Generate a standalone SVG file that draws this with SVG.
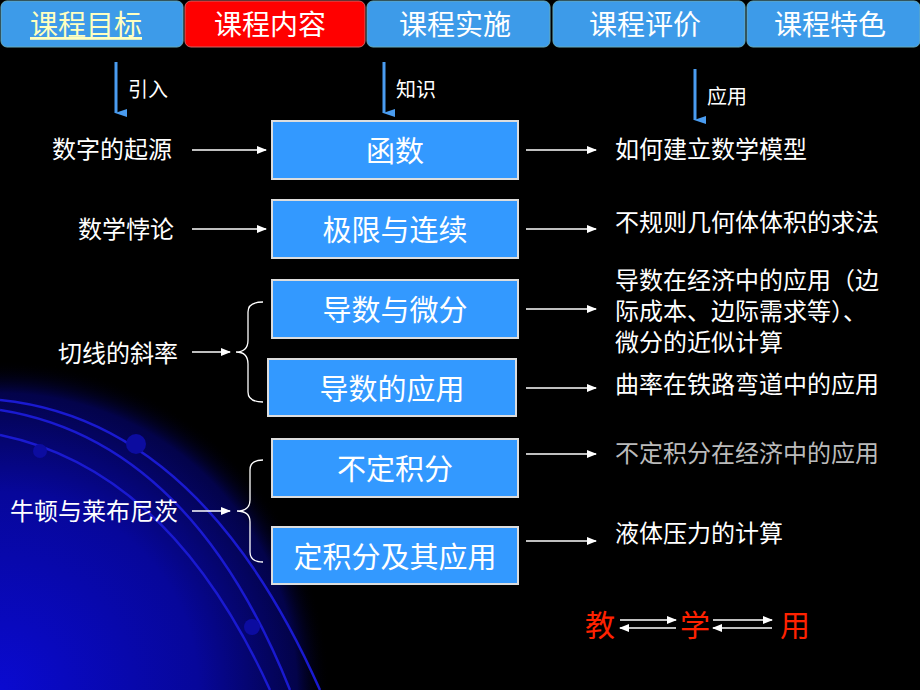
<svg xmlns="http://www.w3.org/2000/svg" width="920" height="690" viewBox="0 0 920 690">
<defs>
<radialGradient id="bg" cx="0" cy="690" r="330" gradientUnits="userSpaceOnUse">
<stop offset="0" stop-color="#0a0ad0"/><stop offset="0.6" stop-color="#07079a"/><stop offset="0.9" stop-color="#03034a"/><stop offset="1" stop-color="#000" stop-opacity="0"/>
</radialGradient>
<marker id="ah" markerWidth="10" markerHeight="8" refX="9" refY="4" orient="auto" markerUnits="userSpaceOnUse"><path d="M0,0 L10,4 L0,8 z" fill="#fff"/></marker>
<marker id="bh" markerWidth="8" markerHeight="12" refX="4" refY="11" orient="auto-start-reverse" markerUnits="userSpaceOnUse"><path d="M0,0 L8,0 L4,12 z" fill="#4a9cf0"/></marker>
<style>
.t{font-family:"Noto Sans CJK SC","Liberation Sans",sans-serif;fill:#fff}
.tab{fill:#3d9be9;stroke:#6ab;stroke-width:1}
.box{fill:#3399ff;stroke:#ddd;stroke-width:2}
.c{stroke:#fff;stroke-width:1.3;fill:none}
.arc{stroke:#1a1ad0;stroke-width:2.5;fill:none}
</style>
</defs>
<rect width="920" height="690" fill="#000"/>
<rect width="920" height="690" fill="url(#bg)"/>
<g id="arcs">
<path class="arc" d="M0,400 Q200,420 320,690"/>
<path class="arc" d="M0,410 Q190,440 290,690"/>
<path class="arc" d="M0,435 Q170,470 270,690"/>
<circle cx="136" cy="444" r="10" fill="#0c0ca0"/>
<circle cx="40" cy="451" r="7" fill="#0c0ca0"/>
<circle cx="252" cy="627" r="8" fill="#0c0ca0"/>
</g>
<g id="tabs" class="t" font-size="28" text-anchor="middle">
<rect class="tab" x="1" y="1" width="182" height="46" rx="6"/>
<text x="86" y="35" text-decoration="underline" style="fill:#ffffc0">课程目标</text>
<rect x="185" y="1" width="180" height="46" rx="6" fill="#ff0000" stroke="#c66"/>
<text x="270" y="35">课程内容</text>
<rect class="tab" x="367" y="1" width="183" height="46" rx="6"/>
<text x="455" y="35">课程实施</text>
<rect class="tab" x="553" y="1" width="192" height="46" rx="6"/>
<text x="645" y="35">课程评价</text>
<rect class="tab" x="747" y="1" width="173" height="46" rx="6"/>
<text x="830" y="35">课程特色</text>
</g>
<g id="heads" class="t" font-size="20">
<line x1="116" y1="62" x2="116" y2="113" stroke="#4a9cf0" stroke-width="3" marker-end="url(#bh)"/>
<text x="128" y="97">引入</text>
<line x1="384" y1="62" x2="384" y2="113" stroke="#4a9cf0" stroke-width="3" marker-end="url(#bh)"/>
<text x="396" y="97">知识</text>
<line x1="695" y1="69" x2="695" y2="120" stroke="#4a9cf0" stroke-width="3" marker-end="url(#bh)"/>
<text x="707" y="104">应用</text>
</g>
<g id="n1"><rect class="box" x="272" y="121" width="246" height="58"/><text class="t" x="395" y="162" font-size="29" text-anchor="middle">函数</text></g>
<g id="n2"><rect class="box" x="272" y="200" width="246" height="58"/><text class="t" x="395" y="241" font-size="29" text-anchor="middle">极限与连续</text></g>
<g id="n3"><rect class="box" x="272" y="280" width="246" height="58"/><text class="t" x="395" y="321" font-size="29" text-anchor="middle">导数与微分</text></g>
<g id="n4"><rect class="box" x="268" y="359" width="248" height="57"/><text class="t" x="392" y="400" font-size="29" text-anchor="middle">导数的应用</text></g>
<g id="n5"><rect class="box" x="272" y="439" width="246" height="58"/><text class="t" x="395" y="480" font-size="29" text-anchor="middle">不定积分</text></g>
<g id="n6"><rect class="box" x="272" y="527" width="246" height="57"/><text class="t" x="395" y="568" font-size="29" text-anchor="middle">定积分及其应用</text></g>
<g id="labels" class="t" font-size="24">
<text x="52" y="158">数字的起源</text>
<text x="78" y="238">数学悖论</text>
<text x="58" y="362">切线的斜率</text>
<text x="10" y="520">牛顿与莱布尼茨</text>
<text x="615" y="158">如何建立数学模型</text>
<text x="615" y="231">不规则几何体体积的求法</text>
<text x="615" y="289">导数在经济中的应用（边</text>
<text x="615" y="320">际成本、边际需求等）、</text>
<text x="615" y="351">微分的近似计算</text>
<text x="615" y="393">曲率在铁路弯道中的应用</text>
<text x="615" y="462" style="fill:#bbb">不定积分在经济中的应用</text>
<text x="615" y="542">液体压力的计算</text>
</g>
<g id="edu" font-size="30" font-family="Noto Sans CJK SC,sans-serif" fill="#ff2200">
<text x="585" y="636">教</text><text x="680" y="636">学</text><text x="780" y="636">用</text>
</g>
<g id="connectors">
<line class="c" x1="192" y1="150" x2="266" y2="150" marker-end="url(#ah)"/>
<line class="c" x1="192" y1="229" x2="266" y2="229" marker-end="url(#ah)"/>
<line class="c" x1="192" y1="352" x2="230" y2="352" marker-end="url(#ah)"/>
<line class="c" x1="192" y1="511" x2="230" y2="511" marker-end="url(#ah)"/>
<path class="c" d="M263,302 Q248,302 248,312 L248,340 Q248,352 236,352 Q248,352 248,364 L248,392 Q248,402 263,402"/>
<path class="c" d="M263,460 Q250,460 250,470 L250,500 Q250,511 237,511 Q250,511 250,522 L250,552 Q250,562 263,562"/>
<line class="c" x1="526" y1="150" x2="596" y2="150" marker-end="url(#ah)"/>
<line class="c" x1="526" y1="229" x2="596" y2="229" marker-end="url(#ah)"/>
<line class="c" x1="526" y1="309" x2="596" y2="309" marker-end="url(#ah)"/>
<line class="c" x1="526" y1="388" x2="596" y2="388" marker-end="url(#ah)"/>
<line class="c" x1="526" y1="454" x2="596" y2="454" marker-end="url(#ah)"/>
<line class="c" x1="526" y1="541" x2="596" y2="541" marker-end="url(#ah)"/>
<line class="c" x1="620" y1="620" x2="676" y2="620" marker-end="url(#ah)"/>
<line class="c" x1="676" y1="628" x2="620" y2="628" marker-end="url(#ah)"/>
<line class="c" x1="713" y1="620" x2="772" y2="620" marker-end="url(#ah)"/>
<line class="c" x1="772" y1="628" x2="713" y2="628" marker-end="url(#ah)"/>
</g>
</svg>
